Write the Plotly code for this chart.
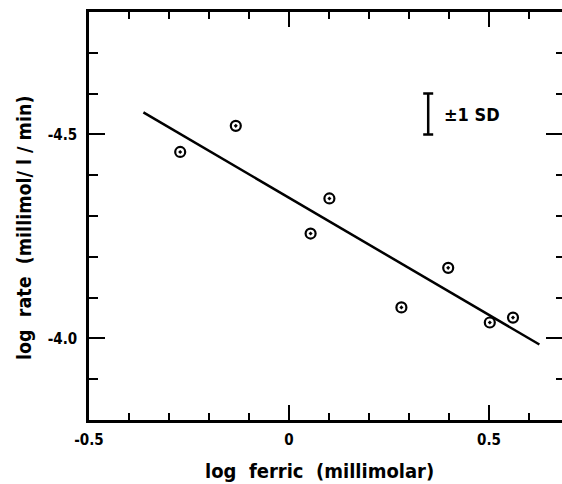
import plotly.graph_objects as go

# data
ferric_log = [-0.272, -0.133, 0.054, 0.101, 0.281, 0.398, 0.502, 0.560]
rate_log = [-4.457, -4.521, -4.257, -4.343, -4.076, -4.173, -4.039, -4.051]
fit_x = [-0.364, 0.626]
fit_y = [-4.554, -3.985]
sd_x = [0.348]
sd_center = [-4.55]
sd_half = [0.05]
x_tickvals = [-0.5, 0, 0.5]
x_ticktext = ["<b>-0.5</b>", "<b>0</b>", "<b>0.5</b>"]
y_tickvals = [-4.5, -4.0]
y_ticktext = ["<b>-4.5</b>", "<b>-4.0</b>"]
x_title = "log&nbsp; ferric&nbsp; (millimolar)"
y_title = "log&nbsp; rate&nbsp; (millimol/ l / min)"

FONT = "DejaVu Sans Condensed, DejaVu Sans, sans-serif"

fig = go.Figure()
fig.add_trace(go.Scatter(x=fit_x, y=fit_y, mode="lines",
                         line=dict(color="black", width=2.5),
                         showlegend=False, hoverinfo="skip"))
fig.add_trace(go.Scatter(x=ferric_log, y=rate_log, mode="markers",
                         marker=dict(symbol="circle-open-dot", size=10, color="black",
                                     line=dict(width=2.2, color="black")),
                         showlegend=False))
fig.add_trace(go.Scatter(x=sd_x, y=sd_center, mode="markers",
                         marker=dict(size=0.1, color="rgba(0,0,0,0)"),
                         error_y=dict(type="data", array=sd_half, color="black",
                                      thickness=2.5, width=5),
                         showlegend=False, hoverinfo="skip"))
fig.add_trace(go.Scatter(x=[None], y=[None], yaxis="y2", showlegend=False, hoverinfo="skip"))

fig.add_annotation(x=sd_x[0], y=sd_center[0], text="<b>±1 SD</b>", showarrow=False,
                   xanchor="left", xshift=14, font=dict(family=FONT, size=18, color="black"))
# axis titles
fig.add_annotation(xref="paper", yref="paper", x=0.488, y=-0.125, text="<b>" + x_title + "</b>",
                   showarrow=False, xanchor="center", yanchor="middle",
                   font=dict(family=FONT, size=20, color="black"))
fig.add_annotation(xref="paper", yref="paper", x=-0.1353, y=0.4706, text="<b>" + y_title + "</b>",
                   showarrow=False, xanchor="center", yanchor="middle", textangle=-90,
                   font=dict(family=FONT, size=19.5, color="black"))

fig.update_layout(
    width=562, height=484,
    margin=dict(l=89, r=0, t=12, b=64),
    paper_bgcolor="white", plot_bgcolor="white",
    font=dict(family=FONT, color="black"),
    xaxis=dict(range=[-0.5, 0.6825], showgrid=False, zeroline=False, automargin=False,
               showline=True, linewidth=2.5, linecolor="black", mirror="ticks",
               ticks="inside", ticklen=15, tickwidth=2, tickcolor="black",
               tickvals=x_tickvals, ticktext=x_ticktext, ticklabelstandoff=4,
               tickfont=dict(family=FONT, size=15, color="black"),
               minor=dict(dtick=0.1, tick0=0, ticks="inside", ticklen=7, tickwidth=2, tickcolor="black", showgrid=False)),
    yaxis=dict(range=[-3.8, -4.8], showgrid=False, zeroline=False, automargin=False,
               showline=True, linewidth=2.5, linecolor="black",
               ticks="inside", ticklen=16, tickwidth=2, tickcolor="black",
               tickvals=y_tickvals, ticktext=y_ticktext, ticklabelstandoff=6,
               tickfont=dict(family=FONT, size=15, color="black"),
               minor=dict(dtick=0.1, tick0=-4.0, ticks="inside", ticklen=9, tickwidth=2, tickcolor="black", showgrid=False)),
    yaxis2=dict(range=[-3.8, -4.8], overlaying="y", side="right", showgrid=False, zeroline=False,
                showline=False, showticklabels=False, automargin=False,
                ticks="inside", ticklen=16, tickwidth=2, tickcolor="black",
                tickvals=y_tickvals,
                minor=dict(dtick=0.1, tick0=-4.0, ticks="inside", ticklen=6, tickwidth=2, tickcolor="black", showgrid=False)),
)

fig.write_html("out.html", config={"displayModeBar": False},
               post_script="document.body.style.margin='0';document.body.style.overflow='hidden';")
